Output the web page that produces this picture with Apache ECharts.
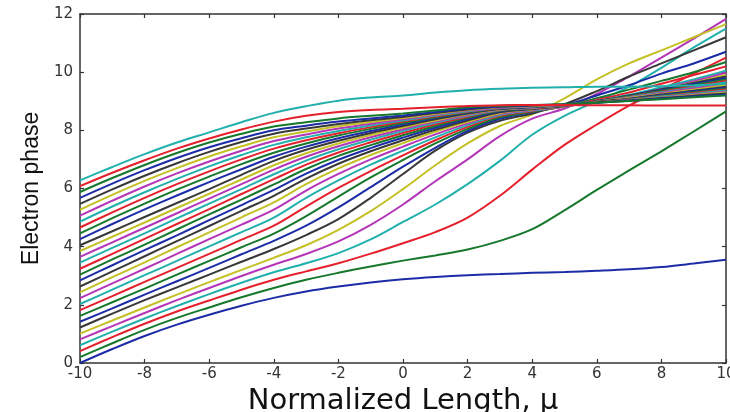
<!DOCTYPE html>
<html>
<head>
    <meta charset="utf-8">
    <title>Electron phase</title>
    <script src="https://cdn.jsdelivr.net/npm/echarts@6/dist/echarts.min.js"></script>
    <style>
        html, body { margin: 0; padding: 0; background: #ffffff; }
        #chart { width: 730px; height: 412px; }
    </style>
</head>
<body>
<div id="chart"></div>
<script>
    // normalized length samples
    var mu = [-10, -9, -8, -7, -6, -5, -4, -3, -2, -1, 0, 1, 2, 3, 4, 5, 6, 7, 8, 9, 10];

    // electron phase, one curve per starting phase (bottom to top)
    var e00 = [0, 0.48, 0.93, 1.32, 1.66, 1.97, 2.24, 2.46, 2.63, 2.77, 2.88, 2.96, 3.02, 3.06, 3.1, 3.13, 3.17, 3.22, 3.3, 3.42, 3.55];
    var e01 = [0.2, 0.68, 1.14, 1.55, 1.91, 2.26, 2.58, 2.86, 3.1, 3.32, 3.52, 3.7, 3.9, 4.2, 4.6, 5.25, 5.95, 6.62, 7.28, 7.96, 8.65];
    var e02 = [0.41, 0.89, 1.35, 1.77, 2.15, 2.52, 2.86, 3.15, 3.43, 3.76, 4.12, 4.5, 5.0, 5.75, 6.65, 7.5, 8.2, 8.85, 9.4, 9.95, 10.5];
    var e03 = [0.61, 1.08, 1.53, 1.96, 2.37, 2.76, 3.12, 3.43, 3.78, 4.25, 4.85, 5.45, 6.15, 6.95, 7.85, 8.5, 9.0, 9.5, 10.15, 10.85, 11.5];
    var e04 = [0.81, 1.27, 1.72, 2.16, 2.58, 2.99, 3.38, 3.75, 4.18, 4.75, 5.45, 6.25, 7.0, 7.8, 8.4, 8.75, 9.25, 9.85, 10.5, 11.15, 11.83];
    var e05 = [1.01, 1.46, 1.91, 2.35, 2.78, 3.2, 3.62, 4.05, 4.58, 5.22, 5.98, 6.8, 7.55, 8.15, 8.55, 9.1, 9.75, 10.3, 10.75, 11.2, 11.65];
    var e06 = [1.22, 1.7, 2.16, 2.6, 3.04, 3.48, 3.92, 4.4, 4.95, 5.68, 6.5, 7.3, 7.92, 8.33, 8.58, 8.9, 9.35, 9.85, 10.3, 10.75, 11.2];
    var e07 = [1.42, 1.88, 2.35, 2.81, 3.27, 3.74, 4.2, 4.72, 5.35, 6.05, 6.75, 7.4, 7.98, 8.4, 8.62, 8.86, 9.2, 9.55, 9.95, 10.3, 10.7];
    var e08 = [1.62, 2.09, 2.56, 3.04, 3.51, 3.98, 4.45, 5.05, 5.72, 6.38, 6.98, 7.55, 8.05, 8.45, 8.64, 8.83, 9.1, 9.4, 9.7, 10.0, 10.35];
    var e09 = [1.82, 2.3, 2.79, 3.27, 3.75, 4.24, 4.72, 5.38, 6.02, 6.6, 7.14, 7.66, 8.12, 8.5, 8.66, 8.82, 9.04, 9.3, 9.6, 9.9, 10.2];
    var e10 = [2.03, 2.52, 3.02, 3.51, 4.01, 4.5, 5.0, 5.68, 6.28, 6.82, 7.3, 7.76, 8.18, 8.53, 8.68, 8.82, 9.0, 9.22, 9.48, 9.75, 10.05];
    var e11 = [2.23, 2.74, 3.24, 3.75, 4.26, 4.76, 5.27, 5.93, 6.5, 7.0, 7.44, 7.86, 8.24, 8.56, 8.7, 8.82, 8.98, 9.18, 9.42, 9.69, 9.98];
    var e12 = [2.43, 2.95, 3.46, 3.98, 4.49, 5.01, 5.52, 6.15, 6.69, 7.15, 7.56, 7.95, 8.29, 8.59, 8.72, 8.83, 8.98, 9.17, 9.39, 9.64, 9.9];
    var e13 = [2.63, 3.15, 3.67, 4.19, 4.71, 5.23, 5.75, 6.34, 6.85, 7.28, 7.66, 8.02, 8.34, 8.62, 8.73, 8.84, 9.0, 9.2, 9.41, 9.63, 9.85];
    var e14 = [2.84, 3.36, 3.88, 4.39, 4.91, 5.43, 5.95, 6.51, 6.99, 7.39, 7.75, 8.09, 8.39, 8.65, 8.74, 8.85, 9.0, 9.18, 9.39, 9.59, 9.8];
    var e15 = [3.04, 3.56, 4.07, 4.59, 5.11, 5.62, 6.14, 6.67, 7.12, 7.49, 7.83, 8.15, 8.43, 8.67, 8.75, 8.85, 8.99, 9.17, 9.36, 9.55, 9.75];
    var e16 = [3.24, 3.75, 4.27, 4.78, 5.29, 5.81, 6.32, 6.82, 7.24, 7.59, 7.91, 8.21, 8.47, 8.69, 8.76, 8.85, 8.99, 9.15, 9.33, 9.51, 9.7];
    var e17 = [3.45, 3.96, 4.46, 4.97, 5.48, 5.98, 6.49, 6.96, 7.35, 7.68, 7.98, 8.26, 8.5, 8.7, 8.77, 8.86, 8.99, 9.14, 9.31, 9.47, 9.65];
    var e18 = [3.65, 4.15, 4.65, 5.15, 5.65, 6.15, 6.65, 7.09, 7.45, 7.76, 8.04, 8.3, 8.53, 8.71, 8.78, 8.86, 8.98, 9.12, 9.28, 9.44, 9.6];
    var e19 = [3.85, 4.34, 4.83, 5.33, 5.82, 6.31, 6.8, 7.21, 7.55, 7.84, 8.1, 8.34, 8.56, 8.72, 8.79, 8.87, 8.98, 9.11, 9.25, 9.4, 9.55];
    var e20 = [4.05, 4.53, 5.02, 5.5, 5.98, 6.47, 6.95, 7.33, 7.64, 7.91, 8.15, 8.38, 8.58, 8.73, 8.8, 8.87, 8.98, 9.09, 9.23, 9.36, 9.5];
    var e21 = [4.26, 4.78, 5.28, 5.76, 6.22, 6.66, 7.09, 7.44, 7.73, 7.98, 8.2, 8.42, 8.6, 8.74, 8.8, 8.87, 8.97, 9.08, 9.21, 9.34, 9.47];
    var e22 = [4.46, 4.98, 5.48, 5.96, 6.41, 6.84, 7.23, 7.55, 7.82, 8.05, 8.25, 8.45, 8.62, 8.75, 8.81, 8.87, 8.97, 9.07, 9.19, 9.31, 9.43];
    var e23 = [4.66, 5.18, 5.68, 6.15, 6.59, 7.0, 7.37, 7.66, 7.9, 8.11, 8.3, 8.48, 8.64, 8.76, 8.82, 8.88, 8.97, 9.06, 9.17, 9.28, 9.4];
    var e24 = [4.86, 5.38, 5.87, 6.33, 6.76, 7.15, 7.5, 7.76, 7.98, 8.17, 8.34, 8.51, 8.66, 8.77, 8.82, 8.88, 8.96, 9.05, 9.16, 9.26, 9.37];
    var e25 = [5.07, 5.58, 6.07, 6.52, 6.93, 7.3, 7.63, 7.86, 8.06, 8.23, 8.38, 8.54, 8.68, 8.78, 8.83, 8.88, 8.96, 9.04, 9.13, 9.23, 9.33];
    var e26 = [5.27, 5.78, 6.26, 6.7, 7.1, 7.45, 7.76, 7.96, 8.14, 8.29, 8.42, 8.57, 8.7, 8.8, 8.84, 8.89, 8.96, 9.03, 9.12, 9.21, 9.3];
    var e27 = [5.47, 5.97, 6.44, 6.87, 7.26, 7.6, 7.88, 8.06, 8.22, 8.35, 8.46, 8.6, 8.72, 8.81, 8.85, 8.89, 8.96, 9.03, 9.11, 9.19, 9.27];
    var e28 = [5.68, 6.17, 6.63, 7.05, 7.42, 7.73, 8.0, 8.16, 8.3, 8.41, 8.51, 8.63, 8.75, 8.82, 8.86, 8.9, 8.95, 9.02, 9.09, 9.16, 9.23];
    var e29 = [5.88, 6.36, 6.81, 7.22, 7.58, 7.88, 8.13, 8.28, 8.41, 8.5, 8.58, 8.68, 8.79, 8.84, 8.87, 8.9, 8.95, 9.01, 9.07, 9.14, 9.2];
    var e30 = [6.08, 6.54, 6.97, 7.37, 7.72, 8.03, 8.3, 8.5, 8.63, 8.7, 8.74, 8.79, 8.84, 8.86, 8.87, 8.87, 8.86, 8.86, 8.85, 8.85, 8.85];
    var e31 = [6.28, 6.74, 7.18, 7.58, 7.93, 8.28, 8.6, 8.83, 9.02, 9.13, 9.2, 9.3, 9.38, 9.43, 9.46, 9.48, 9.5, 9.5, 9.52, 9.55, 9.6];

    var curves = [e00, e01, e02, e03, e04, e05, e06, e07, e08, e09, e10, e11, e12, e13, e14, e15,
        e16, e17, e18, e19, e20, e21, e22, e23, e24, e25, e26, e27, e28, e29, e30, e31];

    var xTicks = [-10, 10, 2];
    var yTicks = [0, 12, 2];

    // matlab style color cycle: b g r c m y k
    var lineColors = ['#1c2ca6', '#16782c', '#e4202c', '#22b0ac', '#b436b8', '#c4c026', '#383838'];

    var chart = echarts.init(document.getElementById('chart'));

    var series = curves.map(function (ys, k) {
        return {
            type: 'line',
            data: mu.map(function (x, i) { return [x, ys[i]]; }),
            showSymbol: false,
            smooth: 0.35,
            lineStyle: { width: 2, color: lineColors[k % lineColors.length] },
            silent: true
        };
    });

    var tickFont = { fontFamily: 'DejaVu Sans', fontSize: 15, color: '#333' };
    var frameLine = { show: true, onZero: false, lineStyle: { color: '#333', width: 1.5 } };
    var inTick = { show: true, inside: true, length: 4, lineStyle: { color: '#333', width: 1.2 } };

    var option = {
        backgroundColor: '#ffffff',
        animation: false,
        grid: { left: 80, right: 4, top: 14, bottom: 49, outerBoundsMode: 'none', containLabel: false },
        xAxis: [
            {
                type: 'value', min: xTicks[0], max: xTicks[1], interval: xTicks[2], position: 'bottom',
                axisLine: frameLine, axisTick: inTick, splitLine: { show: false },
                axisLabel: Object.assign({ margin: 4 }, tickFont),
                name: 'Normalized Length, \u03bc', nameLocation: 'middle', nameGap: 19,
                nameTextStyle: { fontFamily: 'DejaVu Sans', fontSize: 29, color: '#111' }
            },
            {
                type: 'value', min: xTicks[0], max: xTicks[1], interval: xTicks[2], position: 'top',
                axisLine: frameLine, axisTick: inTick, splitLine: { show: false }, axisLabel: { show: false }
            }
        ],
        yAxis: [
            {
                type: 'value', min: yTicks[0], max: yTicks[1], interval: yTicks[2], position: 'left',
                axisLine: frameLine, axisTick: inTick, splitLine: { show: false },
                axisLabel: Object.assign({ margin: 7 }, tickFont),
                name: 'Electron phase', nameLocation: 'middle', nameGap: 37,
                nameTextStyle: { fontFamily: 'Liberation Sans', fontSize: 23, color: '#111' }
            },
            {
                type: 'value', min: yTicks[0], max: yTicks[1], interval: yTicks[2], position: 'right',
                axisLine: frameLine, axisTick: inTick, splitLine: { show: false }, axisLabel: { show: false }
            }
        ],
        series: series
    };

    chart.setOption(option);
</script>
</body>
</html>
